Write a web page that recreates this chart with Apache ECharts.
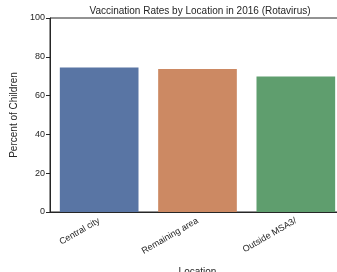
<!DOCTYPE html>
<html>
<head>
<meta charset="utf-8">
<script src="https://cdn.jsdelivr.net/npm/echarts@6/dist/echarts.min.js"></script>
<style>
  html, body { margin: 0; padding: 0; background: #fff; }
  #chart { width: 337px; height: 272px; }
</style>
</head>
<body>
<div id="chart"></div>
<script>
// data
const locations = ["Central city", "Remaining area", "Outside MSA3/"];
const rates = [74.5, 73.7, 69.9];
const barColors = ["#5975a4", "#cc8963", "#5f9e6e"];
const yTicks = [0, 20, 40, 60, 80, 100];

const chart = echarts.init(document.getElementById("chart"));

chart.setOption({
  animation: false,
  textStyle: { fontFamily: "Liberation Sans, Arial, sans-serif" },
  title: {
    text: "Vaccination Rates by Location in 2016 (Rotavirus)",
    left: 195,
    textAlign: "center",
    top: 1,
    textStyle: { fontSize: 10, fontWeight: "normal", color: "#262626" }
  },
  grid: {
    left: 50,
    top: 18,
    width: 295,
    height: 194,
    show: true,
    borderColor: "#262626",
    borderWidth: 1,
    containLabel: false,
    outerBoundsMode: "none"
  },
  xAxis: {
    type: "category",
    data: locations,
    name: "Location",
    nameLocation: "middle",
    nameGap: 55,
    nameTextStyle: { fontSize: 10, color: "#262626" },
    axisLine: { lineStyle: { color: "#262626", width: 1 } },
    axisTick: { alignWithLabel: true, length: 4, lineStyle: { color: "#262626" } },
    axisLabel: { rotate: 30, fontSize: 9, color: "#262626", margin: 8 }
  },
  yAxis: {
    type: "value",
    min: yTicks[0],
    max: yTicks[yTicks.length - 1],
    interval: 20,
    name: "Percent of Children",
    nameLocation: "middle",
    nameGap: 25,
    nameTextStyle: { fontSize: 10, color: "#262626" },
    axisLine: { show: true, lineStyle: { color: "#262626", width: 1 } },
    axisTick: { show: true, length: 4, lineStyle: { color: "#262626" } },
    axisLabel: { fontSize: 9, color: "#262626", margin: 5 },
    splitLine: { show: false }
  },
  series: [{
    type: "bar",
    barWidth: "80%",
    data: rates.map((v, i) => ({ value: v, itemStyle: { color: barColors[i] } }))
  }]
});
</script>
</body>
</html>
